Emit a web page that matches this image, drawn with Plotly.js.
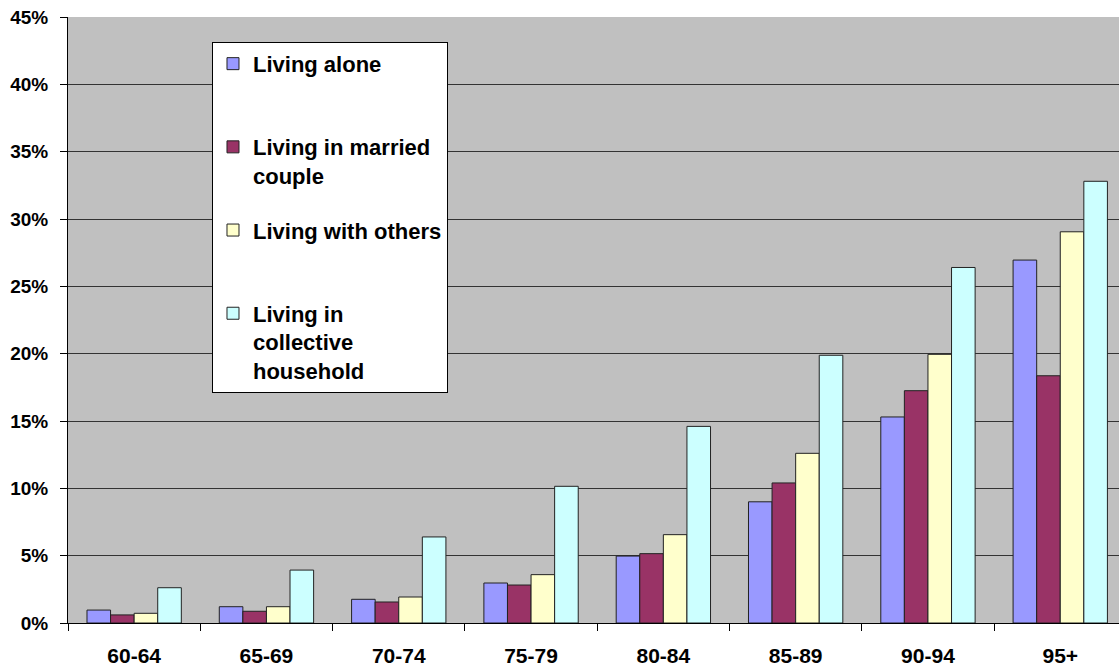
<!DOCTYPE html>
<html>
<head>
<meta charset="utf-8">
<script src="https://cdn.plot.ly/plotly-3.0.1.min.js"></script>
<style>html,body{margin:0;padding:0;background:#fff;}#chart{width:1119px;height:671px;}</style>
</head>
<body>
<div id="chart"></div>
<script>
var categories = ["60-64", "65-69", "70-74", "75-79", "80-84", "85-89", "90-94", "95+"];
var livingAlone = [0.0096, 0.0121, 0.0176, 0.0297, 0.0497, 0.0900, 0.1530, 0.2695];
var livingMarried = [0.0060, 0.0087, 0.0156, 0.0282, 0.0515, 0.1040, 0.1725, 0.1836];
var livingOthers = [0.0072, 0.0121, 0.0193, 0.0359, 0.0656, 0.1260, 0.1995, 0.2905];
var livingCollective = [0.0262, 0.0393, 0.0639, 0.1015, 0.1460, 0.1988, 0.2640, 0.3280];
var seriesNames = [
  "Living alone<br>\u00a0",
  "Living in married<br>couple",
  "Living with others<br>\u00a0",
  "Living in<br>collective<br>household"
];
var seriesColors = ["#9999FF", "#993366", "#FFFFCC", "#CCFFFF"];
var yTickVals = [0, 0.05, 0.10, 0.15, 0.20, 0.25, 0.30, 0.35, 0.40, 0.45];
var yTickText = ["0%", "5%", "10%", "15%", "20%", "25%", "30%", "35%", "40%", "45%"];

var allSeries = [livingAlone, livingMarried, livingOthers, livingCollective];
var traces = allSeries.map(function (vals, i) {
  return {
    type: "bar",
    x: categories,
    y: vals,
    name: seriesNames[i],
    legendgroup: "g" + i,
    marker: { color: seriesColors[i], line: { color: "#222222", width: 1 } },
    hoverinfo: "x+y"
  };
});

var layout = {
  width: 1119,
  height: 671,
  margin: { l: 68, r: 0, t: 17, b: 48, pad: 0 },
  paper_bgcolor: "#FFFFFF",
  plot_bgcolor: "#C0C0C0",
  barmode: "group",
  bargap: 0.287,
  bargroupgap: 0,
  showlegend: true,
  legend: {
    x: 0.1370, xanchor: "left", xref: "paper",
    y: 0.9590, yanchor: "top", yref: "paper",
    bgcolor: "#FFFFFF",
    bordercolor: "#000000",
    borderwidth: 1,
    font: { family: "Liberation Sans, Arial, sans-serif", size: 22, color: "#000000", weight: "bold" },
    valign: "top",
    tracegroupgap: 23,
    itemclick: false,
    itemdoubleclick: false
  },
  xaxis: {
    type: "category",
    range: [-0.5, 7.444],
    showline: true,
    linecolor: "#000000",
    linewidth: 1,
    ticks: "outside",
    tickson: "boundaries",
    ticklen: 7,
    tickcolor: "#000000",
    tickwidth: 1,
    ticklabelstandoff: 14,
    tickfont: { family: "Liberation Sans, Arial, sans-serif", size: 21, color: "#000000", weight: "bold" },
    showgrid: false,
    zeroline: false,
    fixedrange: true
  },
  yaxis: {
    range: [0, 0.45],
    tickvals: yTickVals,
    ticktext: yTickText,
    showline: true,
    linecolor: "#000000",
    linewidth: 1,
    ticks: "outside",
    ticklen: 7,
    tickcolor: "#000000",
    tickwidth: 1,
    ticklabelstandoff: 8,
    tickfont: { family: "Liberation Sans, Arial, sans-serif", size: 19, color: "#000000", weight: "bold" },
    showgrid: true,
    gridcolor: "#333333",
    gridwidth: 1,
    zeroline: false,
    fixedrange: true
  }
};

Plotly.newPlot("chart", traces, layout, { displayModeBar: false, staticPlot: true });
</script>
</body>
</html>
